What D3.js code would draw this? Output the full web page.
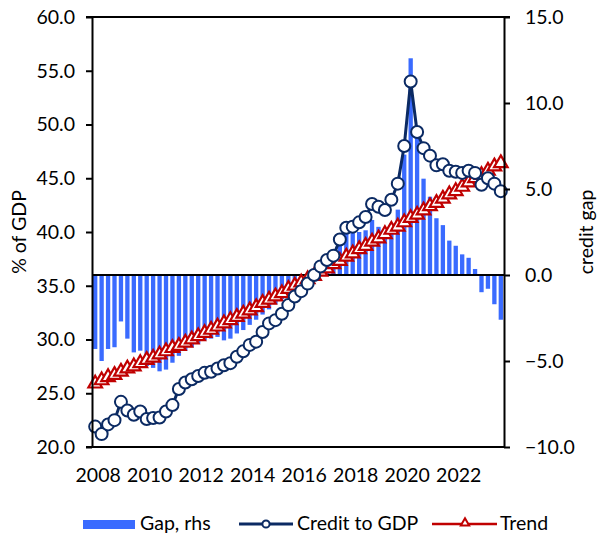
<!DOCTYPE html>
<html>
<head>
<meta charset="utf-8">
<script src="https://cdn.jsdelivr.net/npm/d3@7"></script>
<style>
  body { margin: 0; background: #fff; }
  text { font-family: Lato, "Open Sans", sans-serif; fill: #000; }
</style>
</head>
<body>
<svg width="599" height="537"></svg>
<script>
// quarterly categories 2008Q1 .. 2023Q4
var quarters = [];
for (var yr = 2008; yr <= 2023; yr++) {
  for (var q = 1; q <= 4; q++) quarters.push(yr + "Q" + q);
}

var yearTicks = ["2008", "2010", "2012", "2014", "2016", "2018", "2020", "2022"];
var leftTicks = [20, 25, 30, 35, 40, 45, 50, 55, 60];
var rightTicks = [-10, -5, 0, 5, 10, 15];

// credit to GDP, % (lhs)
var creditToGdp = [
  21.9, 21.2, 22.1, 22.5, 24.2, 23.4, 23.0, 23.3,
  22.6, 22.7, 22.75, 23.3, 23.9, 25.4, 26.0, 26.3,
  26.6, 26.9, 27.0, 27.3, 27.6, 27.8, 28.4, 28.9,
  29.5, 29.8, 30.7, 31.5, 31.8, 32.4, 33.2, 34.0,
  34.5, 35.2, 36.0, 36.8, 37.4, 37.8, 39.3, 40.4,
  40.5, 40.9, 41.4, 42.6, 42.35, 42.05, 43.0, 44.5,
  48.0, 54.0, 49.3, 47.8, 47.1, 46.2, 46.3, 45.7,
  45.6, 45.5, 45.7, 45.5, 44.4, 45.0, 44.5, 43.8
];

// trend, % (lhs)
var trend = [
  25.9, 26.2, 26.5, 26.7, 27.0, 27.3, 27.5, 27.8,
  28.1, 28.3, 28.6, 28.9, 29.2, 29.4, 29.7, 30.0,
  30.3, 30.6, 30.9, 31.2, 31.5, 31.8, 32.1, 32.4,
  32.7, 33.0, 33.4, 33.7, 34.0, 34.3, 34.7, 35.0,
  35.3, 35.6, 35.9, 36.3, 36.6, 37.0, 37.3, 37.7,
  38.0, 38.4, 38.7, 39.1, 39.4, 39.8, 40.2, 40.5,
  40.9, 41.3, 41.6, 42.0, 42.4, 42.7, 43.1, 43.5,
  43.8, 44.2, 44.6, 45.0, 45.3, 45.7, 46.1, 46.4
];

// credit gap, pp (rhs)
var gap = [
  -4.3, -5.0, -4.3, -4.2, -2.7, -3.7, -4.5, -4.4,
  -5.3, -5.4, -5.6, -5.5, -5.1, -4.7, -4.4, -4.2,
  -4.0, -3.8, -3.7, -3.6, -3.8, -3.7, -3.4, -3.2,
  -2.9, -2.6, -2.3, -2.0, -1.7, -1.4, -1.1, -0.8,
  -0.5, -0.3, -0.1, 0.5, 0.8, 0.8, 2.0, 2.6,
  2.5, 2.5, 2.6, 3.2, 2.8, 2.6, 3.0, 3.8,
  7.0, 12.6, 8.0, 5.6, 4.55, 3.3, 2.9, 2.0,
  1.7, 1.2, 1.0, 0.35, -1.0, -0.8, -1.7, -2.6
];

main();

function main() {
  var svg = d3.select("svg"),
    left = 92, right = 504, top = 17, bottom = 447;
  var navy = "#0b2a63", red = "#c00000", blue = "#3a6bff";
  var fs = 19.5;

  var x = d3.scaleBand()
    .domain(quarters)
    .range([left, right])
    .paddingInner(0.33)
    .paddingOuter(0.16);

  var yL = d3.scaleLinear().domain([20, 60]).range([bottom, top]);
  var yR = d3.scaleLinear().domain([-10, 15]).range([bottom, top]);

  var cx = function(d, i) { return x(quarters[i]) + x.bandwidth() / 2; };

  // gap bars
  svg.append("g").selectAll("rect")
    .data(gap)
    .enter().append("rect")
    .attr("x", function(d, i) { return x(quarters[i]); })
    .attr("width", x.bandwidth())
    .attr("y", function(d) { return yR(Math.max(0, d)); })
    .attr("height", function(d) { return Math.abs(yR(d) - yR(0)); })
    .style("fill", blue);

  // zero line of the rhs
  svg.append("line")
    .attr("x1", left).attr("x2", right)
    .attr("y1", yR(0)).attr("y2", yR(0))
    .style("stroke", "#000").style("stroke-width", 2);

  // trend line + triangles
  svg.append("path")
    .datum(trend)
    .attr("d", d3.line().x(cx).y(function(d) { return yL(d); }))
    .style("fill", "none").style("stroke", red).style("stroke-width", 2.5);

  svg.append("g").selectAll("path")
    .data(trend)
    .enter().append("path")
    .attr("transform", function(d, i) { return "translate(" + cx(d, i) + "," + yL(d) + ")"; })
    .attr("d", d3.symbol().type(d3.symbolTriangle).size(80))
    .style("fill", "#fff").style("stroke", red).style("stroke-width", 2.2);

  // credit to GDP line + circles
  svg.append("path")
    .datum(creditToGdp)
    .attr("d", d3.line().x(cx).y(function(d) { return yL(d); }))
    .style("fill", "none").style("stroke", navy).style("stroke-width", 3);

  svg.append("g").selectAll("circle")
    .data(creditToGdp)
    .enter().append("circle")
    .attr("cx", cx)
    .attr("cy", function(d) { return yL(d); })
    .attr("r", 6)
    .style("fill", "#fff").style("stroke", navy).style("stroke-width", 2);

  // axes
  var gl = svg.append("g")
    .attr("transform", "translate(" + left + ",0)")
    .call(d3.axisLeft(yL).tickValues(leftTicks).tickFormat(d3.format(".1f"))
      .tickSize(6).tickSizeOuter(0).tickPadding(11));
  var gr = svg.append("g")
    .attr("transform", "translate(" + right + ",0)")
    .call(d3.axisRight(yR).tickValues(rightTicks).tickFormat(d3.format(".1f"))
      .tickSize(6).tickSizeOuter(0).tickPadding(15));
  var xTickIdx = yearTicks.map(function(t) { return t + "Q1"; });
  var gb = svg.append("g")
    .attr("transform", "translate(0," + bottom + ")")
    .call(d3.axisBottom(x).tickValues(xTickIdx)
      .tickFormat(function(d) { return d.slice(0, 4); })
      .tickSize(0).tickSizeOuter(0).tickPadding(21));
  gb.selectAll("text").attr("dx", 3);

  [gl, gr, gb].forEach(function(g) {
    g.selectAll("path.domain").style("stroke", "#000").style("stroke-width", 2);
    g.selectAll("line").style("stroke", "#000").style("stroke-width", 2);
    g.selectAll("text").style("font-size", fs + "px").style("font-family", "Lato, sans-serif");
  });
  gb.select("path.domain").attr("d", "M" + (left - 6) + ",0H" + right);

  // top frame
  svg.append("line")
    .attr("x1", left - 6).attr("x2", right + 6)
    .attr("y1", top).attr("y2", top)
    .style("stroke", "#000").style("stroke-width", 2);

  // axis titles
  svg.append("text")
    .attr("transform", "translate(26," + (top + bottom) / 2 + ") rotate(-90)")
    .attr("text-anchor", "middle")
    .style("font-size", fs + "px")
    .text("% of GDP");
  svg.append("text")
    .attr("transform", "translate(593," + (top + bottom) / 2 + ") rotate(-90)")
    .attr("text-anchor", "middle")
    .style("font-size", fs + "px")
    .text("credit gap");

  // legend
  var lg = svg.append("g");
  lg.append("rect").attr("x", 83).attr("y", 520).attr("width", 52).attr("height", 9).style("fill", blue);
  lg.append("text").attr("x", 140).attr("y", 530).style("font-size", fs + "px").text("Gap, rhs");

  lg.append("line").attr("x1", 239).attr("x2", 293).attr("y1", 524).attr("y2", 524)
    .style("stroke", navy).style("stroke-width", 3);
  lg.append("circle").attr("cx", 266).attr("cy", 524).attr("r", 3.6)
    .style("fill", "#fff").style("stroke", navy).style("stroke-width", 2);
  lg.append("text").attr("x", 297).attr("y", 530).style("font-size", fs + "px").text("Credit to GDP");

  lg.append("line").attr("x1", 432).attr("x2", 497).attr("y1", 524).attr("y2", 524)
    .style("stroke", red).style("stroke-width", 2.5);
  lg.append("path").attr("transform", "translate(465,523)")
    .attr("d", d3.symbol().type(d3.symbolTriangle).size(30))
    .style("fill", "#fff").style("stroke", red).style("stroke-width", 2);
  lg.append("text").attr("x", 500).attr("y", 530).style("font-size", fs + "px").text("Trend");
}
</script>
</body>
</html>
